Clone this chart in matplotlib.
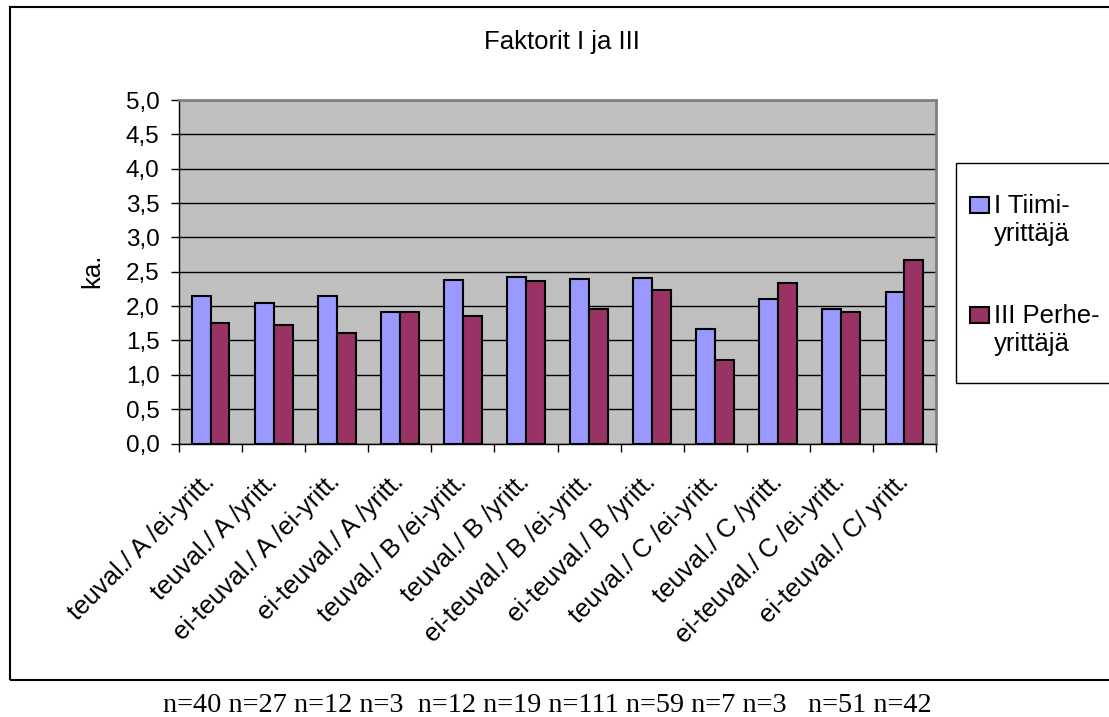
import matplotlib
matplotlib.use("Agg")
import matplotlib.pyplot as plt
from matplotlib.patches import Rectangle
from matplotlib.ticker import FixedLocator, FuncFormatter
from matplotlib.transforms import ScaledTranslation
import numpy as np

# data
categories = ["teuval./ A /ei-yritt.", "teuval./ A /yritt.", "ei-teuval./ A /ei-yritt.",
              "ei-teuval./ A /yritt.", "teuval./ B /ei-yritt.", "teuval./ B /yritt.",
              "ei-teuval./ B /ei-yritt.", "ei-teuval./ B /yritt.", "teuval./ C /ei-yritt.",
              "teuval./ C /yritt.", "ei-teuval./ C /ei-yritt.", "ei-teuval./ C/ yritt."]
tiimi = [2.15, 2.04, 2.14, 1.92, 2.38, 2.42, 2.40, 2.41, 1.67, 2.10, 1.96, 2.20]
perhe = [1.76, 1.72, 1.61, 1.92, 1.86, 2.37, 1.96, 2.23, 1.21, 2.34, 1.92, 2.67]
series_names = ["I Tiimi-\nyrittäjä", "III Perhe-\nyrittäjä"]
colors = ['#9999ff', '#993366']
n_text = "n=40 n=27 n=12 n=3  n=12 n=19 n=111 n=59 n=7 n=3   n=51 n=42"

plt.rcParams['font.family'] = ['Liberation Sans', 'DejaVu Sans']
fs = 18.5

W, H = 1109, 717
fig = plt.figure(figsize=(W/100, H/100), dpi=100)

# outer frame (right side runs off the picture)
fig.patches.append(Rectangle((10/W, 1-680/H), 1.2, (680-6.5)/H, transform=fig.transFigure,
                             fill=False, edgecolor='black', linewidth=1.5, clip_on=False))

ax = fig.add_axes([179/W, 1-443.5/H, 757/W, 343.5/H])
ax.set_facecolor('#c0c0c0')

x = np.arange(len(categories)) + 0.5
w = 0.3
ax.bar(x - w/2, tiimi, w, color=colors[0], edgecolor='black', linewidth=1.5, zorder=3)
ax.bar(x + w/2, perhe, w, color=colors[1], edgecolor='black', linewidth=1.5, zorder=3)

ax.set_xlim(0, len(categories))
ax.set_ylim(0, 5)
ax.set_yticks(np.arange(0, 5.01, 0.5))
ax.yaxis.set_major_formatter(FuncFormatter(lambda v, p: f"{v:.1f}".replace('.', ',')))
ax.grid(axis='y', color='black', linewidth=1, zorder=1)
ax.set_axisbelow(True)

ax.set_xticks(x)
ax.set_xticklabels(categories, rotation=45, ha='right', va='center', rotation_mode='anchor', fontsize=fs)
shift = ScaledTranslation(-19/100, 0, fig.dpi_scale_trans)
for lab in ax.get_xticklabels():
    lab.set_transform(lab.get_transform() + shift)
ax.xaxis.set_minor_locator(FixedLocator(np.arange(0, len(categories) + 1)))
ax.tick_params(axis='x', which='major', length=0, pad=25)
ax.tick_params(axis='x', which='minor', length=6, width=1, direction='out')
ax.tick_params(axis='y', length=6, width=1, direction='out', labelsize=17.5, pad=8)

for s in ['top', 'right']:
    ax.spines[s].set_color('#808080')
    ax.spines[s].set_linewidth(2)
for s in ['left', 'bottom']:
    ax.spines[s].set_color('black')
    ax.spines[s].set_linewidth(1)

fig.text(92/W, 1-271/H, "ka.", rotation=90, ha='center', va='center', fontsize=fs)
fig.text(562/W, 1-42.5/H, "Faktorit I ja III", ha='center', va='center', fontsize=fs)

# legend box, drawn by hand so the right edge can run off the picture
fig.patches.append(Rectangle((956/W, 1-383/H), 0.2, (383-163)/H, transform=fig.transFigure,
                             facecolor='white', edgecolor='black', linewidth=1, clip_on=False))
for i, (name, c) in enumerate(zip(series_names, colors)):
    yc = 220 + i * 110
    fig.patches.append(Rectangle((970/W, 1-(yc-7)/H), 19/W, 16/H, transform=fig.transFigure,
                                 facecolor=c, edgecolor='black', linewidth=1.5))
    fig.text(994/W, 1-yc/H, name, ha='left', va='center', fontsize=fs, linespacing=1.2)

fig.text(547/W, 1-705/H, n_text, ha='center', va='center', fontsize=20.3, family='Liberation Serif')

fig.savefig("out.png", dpi=100)
